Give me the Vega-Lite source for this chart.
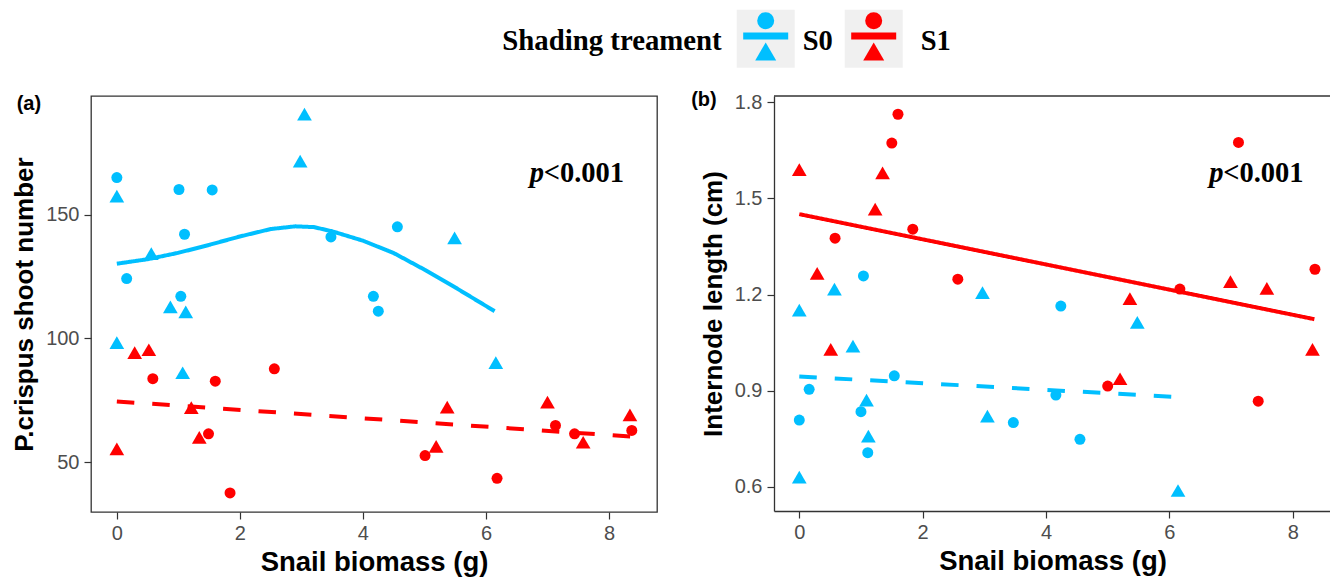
{
  "$schema": "https://vega.github.io/schema/vega-lite/v6.json",
  "padding": {"left": 10, "top": 0, "right": 0, "bottom": 0},
  "background": "white",
  "config": {
    "font": "Liberation Sans",
    "view": {"stroke": "#333333", "strokeWidth": 1.3},
    "axis": {"grid": false, "domain": false, "labelFontSize": 20, "labelColor": "#4d4d4d", "labelFont": "Liberation Sans", "tickColor": "#333333", "tickSize": 7, "tickWidth": 1.2, "titleFontSize": 26, "titleFontWeight": "bold", "titleColor": "#000000", "titleFont": "Liberation Sans", "labelPadding": 5},
    "axisX": {"titlePadding": 5, "labelPadding": 4, "titleFontSize": 27.5},
    "axisY": {"titlePadding": 8}
  },
  "datasets": {
    "ptsA": [
      {"x": 0, "y": 165, "trt": "S0", "group": "G1"},
      {"x": 0.16, "y": 124.2, "trt": "S0", "group": "G1"},
      {"x": 1.01, "y": 160.2, "trt": "S0", "group": "G1"},
      {"x": 1.55, "y": 160, "trt": "S0", "group": "G1"},
      {"x": 1.1, "y": 142.1, "trt": "S0", "group": "G1"},
      {"x": 1.04, "y": 117, "trt": "S0", "group": "G1"},
      {"x": 3.48, "y": 141, "trt": "S0", "group": "G1"},
      {"x": 4.56, "y": 145.1, "trt": "S0", "group": "G1"},
      {"x": 4.17, "y": 117, "trt": "S0", "group": "G1"},
      {"x": 4.25, "y": 111, "trt": "S0", "group": "G1"},
      {"x": 0, "y": 157.5, "trt": "S0", "group": "G2"},
      {"x": 0.56, "y": 134.3, "trt": "S0", "group": "G2"},
      {"x": 0.87, "y": 112.7, "trt": "S0", "group": "G2"},
      {"x": 1.12, "y": 110.7, "trt": "S0", "group": "G2"},
      {"x": 0, "y": 98.3, "trt": "S0", "group": "G2"},
      {"x": 1.07, "y": 86.1, "trt": "S0", "group": "G2"},
      {"x": 3.05, "y": 190.7, "trt": "S0", "group": "G2"},
      {"x": 2.98, "y": 171.7, "trt": "S0", "group": "G2"},
      {"x": 5.49, "y": 140.6, "trt": "S0", "group": "G2"},
      {"x": 6.16, "y": 90.2, "trt": "S0", "group": "G2"},
      {"x": 0, "y": 55.3, "trt": "S1", "group": "G2"},
      {"x": 0.29, "y": 94.2, "trt": "S1", "group": "G2"},
      {"x": 0.52, "y": 95.4, "trt": "S1", "group": "G2"},
      {"x": 1.21, "y": 72, "trt": "S1", "group": "G2"},
      {"x": 1.34, "y": 60, "trt": "S1", "group": "G2"},
      {"x": 5.19, "y": 56.3, "trt": "S1", "group": "G2"},
      {"x": 5.37, "y": 72.2, "trt": "S1", "group": "G2"},
      {"x": 7.0, "y": 74.2, "trt": "S1", "group": "G2"},
      {"x": 7.58, "y": 58, "trt": "S1", "group": "G2"},
      {"x": 8.34, "y": 69.1, "trt": "S1", "group": "G2"},
      {"x": 0.585, "y": 83.7, "trt": "S1", "group": "G1"},
      {"x": 1.6, "y": 82.7, "trt": "S1", "group": "G1"},
      {"x": 1.49, "y": 61.4, "trt": "S1", "group": "G1"},
      {"x": 1.84, "y": 37.5, "trt": "S1", "group": "G1"},
      {"x": 2.56, "y": 87.7, "trt": "S1", "group": "G1"},
      {"x": 5.01, "y": 52.6, "trt": "S1", "group": "G1"},
      {"x": 6.18, "y": 43.4, "trt": "S1", "group": "G1"},
      {"x": 7.13, "y": 64.8, "trt": "S1", "group": "G1"},
      {"x": 7.44, "y": 61.4, "trt": "S1", "group": "G1"},
      {"x": 8.37, "y": 62.8, "trt": "S1", "group": "G1"}
    ],
    "fitA": [
      {"x": 0, "y": 130.2, "trt": "S0", "fit": "sig"},
      {"x": 0.5, "y": 132, "trt": "S0", "fit": "sig"},
      {"x": 1, "y": 134.6, "trt": "S0", "fit": "sig"},
      {"x": 1.5, "y": 137.8, "trt": "S0", "fit": "sig"},
      {"x": 2, "y": 141.2, "trt": "S0", "fit": "sig"},
      {"x": 2.5, "y": 144.2, "trt": "S0", "fit": "sig"},
      {"x": 2.9, "y": 145.3, "trt": "S0", "fit": "sig"},
      {"x": 3.2, "y": 145, "trt": "S0", "fit": "sig"},
      {"x": 3.5, "y": 143.3, "trt": "S0", "fit": "sig"},
      {"x": 4, "y": 139.5, "trt": "S0", "fit": "sig"},
      {"x": 4.5, "y": 134.5, "trt": "S0", "fit": "sig"},
      {"x": 5, "y": 127.8, "trt": "S0", "fit": "sig"},
      {"x": 5.5, "y": 120.6, "trt": "S0", "fit": "sig"},
      {"x": 6.14, "y": 111, "trt": "S0", "fit": "sig"},
      {"x": 0, "y": 74.5, "trt": "S1", "fit": "ns"},
      {"x": 8.35, "y": 60.3, "trt": "S1", "fit": "ns"}
    ],
    "ptsB": [
      {"x": 0, "y": 1.59, "trt": "S1", "group": "G2"},
      {"x": 1.35, "y": 1.58, "trt": "S1", "group": "G2"},
      {"x": 1.23, "y": 1.467, "trt": "S1", "group": "G2"},
      {"x": 0.29, "y": 1.266, "trt": "S1", "group": "G2"},
      {"x": 0.51, "y": 1.029, "trt": "S1", "group": "G2"},
      {"x": 5.36, "y": 1.187, "trt": "S1", "group": "G2"},
      {"x": 6.99, "y": 1.24, "trt": "S1", "group": "G2"},
      {"x": 7.58, "y": 1.219, "trt": "S1", "group": "G2"},
      {"x": 8.32, "y": 1.029, "trt": "S1", "group": "G2"},
      {"x": 5.2, "y": 0.937, "trt": "S1", "group": "G2"},
      {"x": 1.6, "y": 1.763, "trt": "S1", "group": "G1"},
      {"x": 1.5, "y": 1.673, "trt": "S1", "group": "G1"},
      {"x": 0.58, "y": 1.376, "trt": "S1", "group": "G1"},
      {"x": 1.84, "y": 1.404, "trt": "S1", "group": "G1"},
      {"x": 2.57, "y": 1.248, "trt": "S1", "group": "G1"},
      {"x": 7.12, "y": 1.675, "trt": "S1", "group": "G1"},
      {"x": 6.17, "y": 1.217, "trt": "S1", "group": "G1"},
      {"x": 8.36, "y": 1.279, "trt": "S1", "group": "G1"},
      {"x": 5.0, "y": 0.914, "trt": "S1", "group": "G1"},
      {"x": 7.44, "y": 0.867, "trt": "S1", "group": "G1"},
      {"x": 0, "y": 1.151, "trt": "S0", "group": "G2"},
      {"x": 0.57, "y": 1.217, "trt": "S0", "group": "G2"},
      {"x": 0.87, "y": 1.039, "trt": "S0", "group": "G2"},
      {"x": 2.97, "y": 1.206, "trt": "S0", "group": "G2"},
      {"x": 5.48, "y": 1.113, "trt": "S0", "group": "G2"},
      {"x": 1.09, "y": 0.87, "trt": "S0", "group": "G2"},
      {"x": 1.12, "y": 0.758, "trt": "S0", "group": "G2"},
      {"x": 0, "y": 0.63, "trt": "S0", "group": "G2"},
      {"x": 3.05, "y": 0.82, "trt": "S0", "group": "G2"},
      {"x": 6.14, "y": 0.588, "trt": "S0", "group": "G2"},
      {"x": 1.04, "y": 1.258, "trt": "S0", "group": "G1"},
      {"x": 4.24, "y": 1.164, "trt": "S0", "group": "G1"},
      {"x": 1.54, "y": 0.946, "trt": "S0", "group": "G1"},
      {"x": 0.16, "y": 0.904, "trt": "S0", "group": "G1"},
      {"x": 1.0, "y": 0.834, "trt": "S0", "group": "G1"},
      {"x": 0, "y": 0.808, "trt": "S0", "group": "G1"},
      {"x": 1.11, "y": 0.706, "trt": "S0", "group": "G1"},
      {"x": 3.47, "y": 0.8, "trt": "S0", "group": "G1"},
      {"x": 4.16, "y": 0.886, "trt": "S0", "group": "G1"},
      {"x": 4.55, "y": 0.748, "trt": "S0", "group": "G1"}
    ],
    "fitB": [
      {"x": 0, "y": 1.451, "trt": "S1", "fit": "sig"},
      {"x": 8.35, "y": 1.123, "trt": "S1", "fit": "sig"},
      {"x": 0, "y": 0.944, "trt": "S0", "fit": "ns"},
      {"x": 6.14, "y": 0.88, "trt": "S0", "fit": "ns"}
    ],
    "keys": [{"trt": "S0"}, {"trt": "S1"}]
  },
  "spacing": 20,
  "vconcat": [
    {
      "width": 1000,
      "height": 70,
      "view": {"stroke": null},
      "data": {"name": "keys"},
      "encoding": {
        "x": {"field": "trt", "type": "nominal", "scale": {"type": "point", "padding": 0, "domain": ["S0", "S1"], "range": [674.7, 782.7]}, "axis": null}
      },
      "layer": [
        {
          "mark": {"type": "point", "shape": "square", "filled": true, "size": 3364, "color": "#f0f0f0", "opacity": 1},
          "encoding": {"y": {"datum": 38.8, "type": "quantitative", "scale": {"domain": [0, 70], "reverse": true}, "axis": null}}
        },
        {
          "mark": {"type": "point", "shape": "circle", "filled": true, "size": 289, "opacity": 1},
          "encoding": {
            "y": {"datum": 20.7, "type": "quantitative"},
            "color": {"field": "trt", "type": "nominal", "scale": {"domain": ["S0", "S1"], "range": ["#00BFFF", "#FF0000"]}, "legend": null}
          }
        },
        {
          "mark": {"type": "tick", "orient": "horizontal", "size": 45, "thickness": 7, "opacity": 1},
          "encoding": {
            "y": {"datum": 36, "type": "quantitative"},
            "color": {"field": "trt", "type": "nominal", "legend": null}
          }
        },
        {
          "mark": {"type": "point", "shape": "triangle-up", "filled": true, "size": 441, "opacity": 1},
          "encoding": {
            "y": {"datum": 51.5, "type": "quantitative"},
            "color": {"field": "trt", "type": "nominal", "legend": null}
          }
        },
        {
          "transform": [{"filter": "datum.trt == 'S0'"}],
          "mark": {"type": "text", "font": "Liberation Serif", "fontWeight": "bold", "fontSize": 28.5, "align": "left", "baseline": "alphabetic", "dx": 37, "color": "#000000"},
          "encoding": {"y": {"datum": 50, "type": "quantitative"}, "text": {"field": "trt"}}
        },
        {
          "transform": [{"filter": "datum.trt == 'S1'"}],
          "mark": {"type": "text", "font": "Liberation Serif", "fontWeight": "bold", "fontSize": 28.5, "align": "left", "baseline": "alphabetic", "dx": 47, "color": "#000000"},
          "encoding": {"y": {"datum": 50, "type": "quantitative"}, "text": {"field": "trt"}}
        },
        {
          "transform": [{"filter": "datum.trt == 'S0'"}],
          "mark": {"type": "text", "text": "Shading treament", "font": "Liberation Serif", "fontWeight": "bold", "fontSize": 28.8, "align": "right", "baseline": "alphabetic", "dx": -44, "color": "#000000"},
          "encoding": {"y": {"datum": 50, "type": "quantitative"}}
        }
      ]
    },
    {
      "spacing": 33,
      "hconcat": [
        {
          "width": 566,
          "height": 416,
          "title": {"text": "(a)", "anchor": "start", "frame": "bounds", "fontSize": 20, "fontWeight": "bold", "font": "Liberation Sans", "offset": -18, "baseline": "top", "dx": 5, "color": "#000000"},
          "layer": [
            {
              "data": {"name": "ptsA"},
              "mark": {"type": "point", "filled": true, "opacity": 1},
              "encoding": {
                "x": {"field": "x", "type": "quantitative", "scale": {"domain": [-0.42, 8.78], "nice": false, "zero": false}, "axis": {"values": [0, 2, 4, 6, 8], "format": "d", "title": "Snail biomass (g)"}},
                "y": {"field": "y", "type": "quantitative", "scale": {"domain": [29.8, 198], "nice": false, "zero": false}, "axis": {"values": [50, 100, 150], "format": "d", "title": "P.crispus shoot number"}},
                "color": {"field": "trt", "type": "nominal", "scale": {"domain": ["S0", "S1"], "range": ["#00BFFF", "#FF0000"]}, "legend": null},
                "shape": {"field": "group", "type": "nominal", "scale": {"domain": ["G1", "G2"], "range": ["circle", "triangle-up"]}, "legend": null},
                "size": {"field": "group", "type": "nominal", "scale": {"domain": ["G1", "G2"], "range": [121, 216]}, "legend": null}
              }
            },
            {
              "data": {"name": "fitA"},
              "mark": {"type": "line", "strokeWidth": 4, "strokeCap": "butt"},
              "encoding": {
                "x": {"field": "x", "type": "quantitative"},
                "y": {"field": "y", "type": "quantitative"},
                "color": {"field": "trt", "type": "nominal", "legend": null},
                "strokeDash": {"field": "fit", "type": "nominal", "scale": {"domain": ["sig", "ns"], "range": [[1, 0], [17.5, 18]]}, "legend": null}
              }
            },
            {
              "data": {"values": [{}]},
              "mark": {"type": "text", "text": "p", "font": "Liberation Serif", "fontWeight": "bold", "fontStyle": "italic", "fontSize": 28.5, "align": "left", "baseline": "alphabetic", "color": "#000000"},
              "encoding": {"x": {"datum": 6.71, "type": "quantitative"}, "y": {"datum": 163.3, "type": "quantitative"}}
            },
            {
              "data": {"values": [{}]},
              "mark": {"type": "text", "text": "<0.001", "font": "Liberation Serif", "fontWeight": "bold", "fontSize": 28.5, "align": "left", "baseline": "alphabetic", "dx": 14, "color": "#000000"},
              "encoding": {"x": {"datum": 6.71, "type": "quantitative"}, "y": {"datum": 163.3, "type": "quantitative"}}
            }
          ]
        },
        {
          "width": 557,
          "height": 415,
          "view": {"stroke": null},
          "title": {"text": "(b)", "anchor": "start", "frame": "bounds", "fontSize": 20, "fontWeight": "bold", "font": "Liberation Sans", "offset": -18, "baseline": "top", "dx": -9, "color": "#000000"},
          "layer": [
            {
              "data": {"name": "ptsB"},
              "mark": {"type": "point", "filled": true, "opacity": 1},
              "encoding": {
                "x": {"field": "x", "type": "quantitative", "scale": {"domain": [-0.41, 8.62], "nice": false, "zero": false}, "axis": {"values": [0, 2, 4, 6, 8], "format": "d", "title": "Snail biomass (g)", "domain": true, "domainColor": "#333333", "domainWidth": 1.3}},
                "y": {"field": "y", "type": "quantitative", "scale": {"domain": [0.524, 1.82], "nice": false, "zero": false}, "axis": {"values": [0.6, 0.9, 1.2, 1.5, 1.8], "format": ".1f", "title": "Internode length (cm)", "domain": true, "domainColor": "#333333", "domainWidth": 1.3}},
                "color": {"field": "trt", "type": "nominal", "scale": {"domain": ["S0", "S1"], "range": ["#00BFFF", "#FF0000"]}, "legend": null},
                "shape": {"field": "group", "type": "nominal", "scale": {"domain": ["G1", "G2"], "range": ["circle", "triangle-up"]}, "legend": null},
                "size": {"field": "group", "type": "nominal", "scale": {"domain": ["G1", "G2"], "range": [121, 216]}, "legend": null}
              }
            },
            {
              "data": {"name": "fitB"},
              "mark": {"type": "line", "strokeWidth": 4, "strokeCap": "butt"},
              "encoding": {
                "x": {"field": "x", "type": "quantitative"},
                "y": {"field": "y", "type": "quantitative"},
                "color": {"field": "trt", "type": "nominal", "legend": null},
                "strokeDash": {"field": "fit", "type": "nominal", "scale": {"domain": ["sig", "ns"], "range": [[1, 0], [17.5, 18]]}, "legend": null}
              }
            },
            {
              "data": {"values": [{}]},
              "mark": {"type": "rule", "color": "#333333", "strokeWidth": 1.3},
              "encoding": {"y": {"datum": 1.82, "type": "quantitative"}}
            },
            {
              "data": {"values": [{}]},
              "mark": {"type": "text", "text": "p", "font": "Liberation Serif", "fontWeight": "bold", "fontStyle": "italic", "fontSize": 28.5, "align": "left", "baseline": "alphabetic", "color": "#000000"},
              "encoding": {"x": {"datum": 6.645, "type": "quantitative"}, "y": {"datum": 1.55, "type": "quantitative"}}
            },
            {
              "data": {"values": [{}]},
              "mark": {"type": "text", "text": "<0.001", "font": "Liberation Serif", "fontWeight": "bold", "fontSize": 28.5, "align": "left", "baseline": "alphabetic", "dx": 14, "color": "#000000"},
              "encoding": {"x": {"datum": 6.645, "type": "quantitative"}, "y": {"datum": 1.55, "type": "quantitative"}}
            }
          ]
        }
      ]
    }
  ]
}
